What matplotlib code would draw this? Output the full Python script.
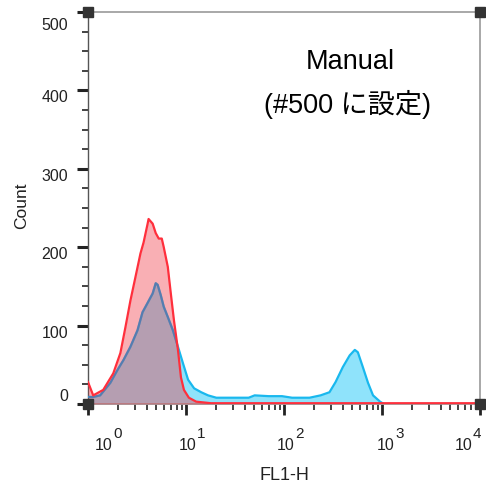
import matplotlib
matplotlib.use('Agg')
import matplotlib.pyplot as plt
import matplotlib.transforms as mtransforms
import numpy as np

plt.rcParams['font.family'] = ['Liberation Sans', 'Noto Sans CJK JP', 'DejaVu Sans']

# histogram outlines read along FL1-H (log scale)
red_x = [1.00, 1.13, 1.43, 1.81, 2.14, 2.41, 2.71, 3.05, 3.43, 3.69, 4.06, 4.15,
         4.57, 4.91, 5.27, 5.66, 5.93, 6.52, 7.00, 7.53, 8.28, 8.88, 9.53, 10.7, 12.7, 18.0, 10000]
red_y = [28, 11, 18, 39, 65, 98, 132, 162, 192, 206, 230, 236,
         230, 218, 211, 211, 200, 175, 141, 107, 69, 34, 18, 8, 3, 1, 1]

blue_x = [1.00, 1.13, 1.33, 1.69, 1.99, 2.30, 2.71, 3.20, 3.60, 4.06, 4.57, 4.91, 5.14,
          5.52, 5.93, 6.52, 7.35, 8.28, 9.31, 10.5, 12.1, 14.3, 16.8, 20.4, 43.6,
          50.2, 69.8, 95.3, 121, 182, 236, 291, 336, 398, 468, 528, 567, 638, 720, 810, 955, 1045, 10000]
blue_y = [9, 9, 11, 27, 43, 56, 73, 94, 117, 129, 141, 154, 152,
          139, 124, 111, 94, 73, 52, 31, 20, 15, 11, 8, 8,
          11, 10, 10, 8, 8, 11, 15, 28, 47, 62, 69, 66, 47, 27, 11, 3, 0, 0]

y_ticks = [0, 100, 200, 300, 400, 500]
decades = [0, 1, 2, 3, 4]
# pixel nudges for the decade labels
dec_shift = [15.5, 1.5, 2, 3.5, -16.5]

W, H = 486, 488
fig = plt.figure(figsize=(W / 100, H / 100), dpi=100)
ax = fig.add_axes([88 / W, (H - 404) / H, 392 / W, 392 / H])

ax.set_xscale('log')
ax.set_xlim(1, 10000)
ax.set_ylim(0, 500)

# cyan histogram first, red one laid over it
ax.fill_between(blue_x, blue_y, 0, color='#8fe3fb', lw=0, zorder=2)
ax.plot(blue_x, blue_y, color='#19b8ee', lw=1.6, zorder=3)
red_fill = ax.fill_between(red_x, red_y, 0, color='#f03844', alpha=0.40, lw=0, zorder=4)
# blue outline seen through the red fill
under, = ax.plot(blue_x, blue_y, color='#3c78b8', lw=1.6, alpha=0.5, zorder=4.5)
under.set_clip_path(red_fill.get_paths()[0], ax.transData)
ax.plot(red_x, red_y, color='#ff2f3c', lw=1.6, zorder=5)

for s in ['top', 'right']:
    ax.spines[s].set_color('#9a9a9a')
    ax.spines[s].set_linewidth(1.2)
ax.spines['left'].set_color('#555555')
ax.spines['bottom'].set_color('#9a9a9a')
ax.spines['left'].set_linewidth(1.0)
ax.spines['bottom'].set_linewidth(1.2)

# ticks
ax.set_yticks(y_ticks)
ax.set_yticks(np.arange(0, 501, 25), minor=True)
ax.set_xticks([10 ** d for d in decades])
ax.xaxis.set_minor_locator(matplotlib.ticker.LogLocator(base=10, subs=np.arange(2, 10)))
ax.tick_params(axis='y', which='major', length=8, width=2.2, color='#222222', labelleft=False)
ax.tick_params(axis='y', which='minor', length=4.5, width=1.2, color='#222222')
ax.tick_params(axis='x', which='major', length=8, width=2.0, color='#222222', labelbottom=False)
ax.tick_params(axis='x', which='minor', length=4, width=1.2, color='#222222', labelbottom=False)

# corner handles
for cx, cy in [(0, 0), (1, 0), (0, 1), (1, 1)]:
    ax.plot(cx, cy, marker='s', ms=7, color='#333333', transform=ax.transAxes,
            clip_on=False, zorder=10)

# y tick labels
for v in y_ticks:
    dy = -6 if v == 500 else 0
    va = 'bottom' if v == 0 else 'top'
    tr = mtransforms.offset_copy(ax.get_yaxis_transform(), fig=fig, x=-20, y=dy, units='dots')
    ax.text(0, v, str(v), transform=tr, ha='right', va=va, fontsize=11.5, color='#222222')

# x decade labels
for d, sh in zip(decades, dec_shift):
    tr = mtransforms.offset_copy(ax.get_xaxis_transform(), fig=fig, x=sh, y=-34, units='dots')
    ax.text(10 ** d, 0, '10', transform=tr, ha='center', va='top', fontsize=11.5, color='#222222')
    tr2 = mtransforms.offset_copy(ax.get_xaxis_transform(), fig=fig, x=sh + 9.5, y=-23, units='dots')
    ax.text(10 ** d, 0, str(d), transform=tr2, ha='left', va='top', fontsize=11, color='#222222')

fig.text(22 / W, 1 - 206 / H, 'Count', rotation=90, ha='center', va='center', fontsize=12.5,
         color='#222222')
fig.text(284 / W, 1 - 475 / H, 'FL1-H', ha='center', va='center', fontsize=13, color='#222222')

fig.text(350 / W, 1 - 62 / H, 'Manual', ha='center', va='center', fontsize=19.5, color='black')
fig.text(347 / W, 1 - 104 / H, '(#500 に設定)', ha='center', va='center', fontsize=19.5,
         color='black')

fig.savefig('out.png', dpi=100)
